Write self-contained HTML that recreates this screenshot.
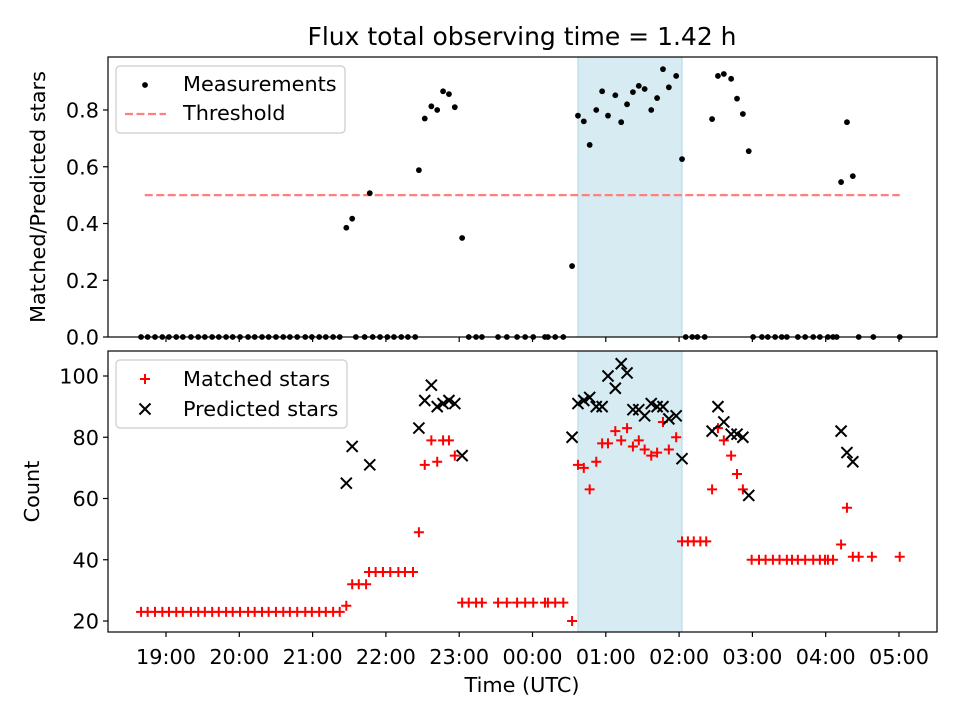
<!DOCTYPE html>
<html><head><meta charset="utf-8"><style>
body{margin:0;background:#fff}
svg text{font-family:"DejaVu Sans","Liberation Sans",sans-serif;fill:#000}
</style></head><body>
<svg id="chart" width="960" height="720" viewBox="0 0 960 720" xmlns="http://www.w3.org/2000/svg">
<rect width="960" height="720" fill="#fff"/>
<text x="522" y="45" font-size="25" text-anchor="middle">Flux total observing time = 1.42 h</text>
<g id="topPanel"></g><g id="botPanel"></g>
</svg>
<script>
// hours relative to 19:00 UTC
const ratioTimes=[-0.34,-0.25,-0.15,-0.05,0.04,0.14,0.23,0.34,0.44,0.53,0.63,0.72,0.82,0.91,1.01,1.12,1.21,1.31,1.40,1.50,1.60,1.69,1.79,1.90,1.99,2.09,2.18,2.28,2.37,
2.46,2.54,2.59,2.71,2.78,2.82,2.92,3.02,3.11,3.21,3.30,3.40,3.45,3.53,3.62,3.70,3.78,3.86,3.94,4.04,4.13,4.23,4.31,4.53,4.65,4.79,4.90,5.01,5.17,5.21,5.31,5.42,
5.54,5.62,5.70,5.78,5.87,5.95,6.03,6.13,6.21,6.29,6.37,6.45,6.53,6.62,6.70,6.78,6.86,6.96,7.04,7.09,7.18,7.25,7.35,7.45,7.53,7.61,7.71,7.79,7.87,7.95,
8.01,8.13,8.21,8.31,8.40,8.47,8.62,8.72,8.83,8.92,9.03,9.10,9.15,9.21,9.29,9.37,9.45,9.65,10.01];
const ratioValues=[0,0,0,0,0,0,0,0,0,0,0,0,0,0,0,0,0,0,0,0,0,0,0,0,0,0,0,0,0,
0.385,0.417,0,0,0.507,0,0,0,0,0,0,0,0.588,0.77,0.813,0.80,0.866,0.856,0.81,0.349,0,0,0,0,0,0,0,0,0,0,0,0,
0.25,0.78,0.76,0.677,0.80,0.866,0.78,0.852,0.757,0.82,0.863,0.885,0.874,0.80,0.842,0.944,0.88,0.92,0.627,0,0,0,0,0.768,0.92,0.927,0.91,0.84,0.786,0.655,
0,0,0,0,0,0,0,0,0,0,0,0,0,0.546,0.757,0.567,0,0,0];
const thresholdValue=0.5;
const thresholdRange=[-0.29,10.01];
const shadeRange=[5.62,7.04];
const matchedTimes=[-0.34,-0.25,-0.15,-0.05,0.04,0.14,0.23,0.34,0.44,0.53,0.63,0.72,0.82,0.91,1.01,1.12,1.21,1.31,1.40,1.50,1.60,1.69,1.79,1.90,1.99,2.09,2.18,2.28,2.37,
2.46,2.54,2.63,2.73,2.77,2.86,2.96,3.06,3.17,3.26,3.37,3.45,3.53,3.62,3.70,3.78,3.86,3.94,4.04,4.13,4.23,4.31,4.53,4.65,4.79,4.90,5.01,5.17,5.21,5.31,5.42,
5.54,5.62,5.70,5.78,5.87,5.95,6.03,6.13,6.21,6.29,6.37,6.45,6.53,6.62,6.70,6.78,6.86,6.96,7.04,7.12,7.20,7.29,7.37,7.45,7.53,7.61,7.71,7.79,7.87,
7.99,8.09,8.18,8.28,8.37,8.47,8.54,8.62,8.72,8.83,8.92,8.99,9.03,9.10,9.21,9.29,9.37,9.45,9.63,10.01];
const matchedValues=[23,23,23,23,23,23,23,23,23,23,23,23,23,23,23,23,23,23,23,23,23,23,23,23,23,23,23,23,23,
25,32,32,32,36,36,36,36,36,36,36,49,71,79,72,79,79,74,26,26,26,26,26,26,26,26,26,26,26,26,26,
20,71,70,63,72,78,78,82,79,83,77,79,76,74,75,85,76,80,46,46,46,46,46,63,83,79,74,68,63,
40,40,40,40,40,40,40,40,40,40,40,40,40,40,45,57,41,41,41,41];
const predTimes=[2.46,2.54,2.78,3.45,3.53,3.62,3.70,3.78,3.86,3.94,4.04,5.54,5.62,5.70,5.78,5.87,5.95,6.03,6.13,6.21,6.29,6.37,6.45,6.53,6.62,6.70,6.78,6.86,6.96,7.04,7.45,7.53,7.61,7.71,7.79,7.87,7.95,9.21,9.29,9.37];
const predValues=[65,77,71,83,92,97,90,91,92,91,74,80,91,92,93,90,90,100,96,104,101,89,89,87,91,90,90,86,87,73,82,90,85,81,81,80,61,82,75,72];
const xTickLabels=["19:00","20:00","21:00","22:00","23:00","00:00","01:00","02:00","03:00","04:00","05:00"];
const xTickHours=[0,1,2,3,4,5,6,7,8,9,10];
const topTicks=[0,0.2,0.4,0.6,0.8];
const botTicks=[20,40,60,80,100];

const NS="http://www.w3.org/2000/svg";
const L=108,R=937,FS=20.8;
const xScale=h=>166+h*73.3;
const yTop=v=>337-v*283.75;
const yBot=v=>376+(100-v)*3.0625;
function mk(parent,tag,attrs,text){const e=document.createElementNS(NS,tag);for(const k in attrs)e.setAttribute(k,attrs[k]);if(text!==undefined)e.textContent=text;parent.appendChild(e);return e;}
const topG=document.getElementById('topPanel'),botG=document.getElementById('botPanel');

function axesFrame(g,y0,y1,ticks,yf,name,ylabel,showX){
  const sh=mk(g,'rect',{x:xScale(shadeRange[0]),y:y0,width:xScale(shadeRange[1])-xScale(shadeRange[0]),height:y1-y0,fill:'#add8e6','fill-opacity':0.5,stroke:'#add8e6','stroke-width':1});
  
  
  ticks.forEach(t=>{const y=yf(t);
    const tk=mk(g,'line',{x1:L-5,x2:L,y1:y,y2:y,stroke:'#000','stroke-width':1.2});
    
    
    const tl=mk(g,'text',{x:L-9,y:y+7.5,'font-size':FS,'text-anchor':'end'},name==='top'?t.toFixed(1):String(t));
    
    
  });
  xTickHours.forEach((h,i)=>{const x=xScale(h);
    const tk=mk(g,'line',{x1:x,x2:x,y1:y1,y2:y1+5,stroke:'#000','stroke-width':1.2});
    
    
    if(showX){const tl=mk(g,'text',{x:x,y:y1+32,'font-size':FS,'text-anchor':'middle'},xTickLabels[i]);
      
      }
  });
  const yl=mk(g,'text',{x:0,y:0,'font-size':FS,'text-anchor':'middle',transform:`translate(${name==='top'?45:39},${(y0+y1)/2}) rotate(-90)`},ylabel);
  
  
}
function frame(g,y0,y1,name){const f=mk(g,'rect',{x:L,y:y0,width:R-L,height:y1-y0,fill:'none',stroke:'#000','stroke-width':1.2});
  
  }

// top panel
axesFrame(topG,57,337,topTicks,yTop,'top','Matched/Predicted stars',false);
const th=mk(topG,'line',{x1:xScale(thresholdRange[0]),x2:xScale(thresholdRange[1]),y1:yTop(thresholdValue),y2:yTop(thresholdValue),stroke:'#ff7f7f','stroke-width':2.2,'stroke-dasharray':'8,3.5'});


ratioTimes.forEach((t,i)=>{const c=mk(topG,'circle',{cx:xScale(t),cy:yTop(ratioValues[i]),r:2.9,fill:'#000'});
  
  });
frame(topG,57,337,'top');

// bottom panel
axesFrame(botG,351,632,botTicks,yBot,'bottom','Count',true);
function plus(g,x,y,s){return mk(g,'path',{d:`M${x-s},${y}H${x+s}M${x},${y-s}V${y+s}`,stroke:'#f00','stroke-width':2,fill:'none'});}
function cross(g,x,y,s){return mk(g,'path',{d:`M${x-s},${y-s}L${x+s},${y+s}M${x-s},${y+s}L${x+s},${y-s}`,stroke:'#000','stroke-width':2,fill:'none'});}
matchedTimes.forEach((t,i)=>{const p=plus(botG,xScale(t),yBot(matchedValues[i]),5);
  
  });
predTimes.forEach((t,i)=>{const p=cross(botG,xScale(t),yBot(predValues[i]),5.5);
  
  });
frame(botG,351,632,'bottom');
const xt=mk(botG,'text',{x:522,y:692,'font-size':FS,'text-anchor':'middle'},'Time (UTC)');



// legends
const lg1=mk(topG,'g',{});


mk(lg1,'rect',{x:116,y:66,width:229,height:67,rx:4,fill:'#fff','fill-opacity':0.8,stroke:'#ccc','stroke-width':1.2});
mk(lg1,'circle',{cx:145,cy:85,r:2.9,fill:'#000'});
const t1=mk(lg1,'text',{x:183,y:91,'font-size':FS},'Measurements');


mk(lg1,'line',{x1:125,x2:166,y1:114,y2:114,stroke:'#ff7f7f','stroke-width':2.2,'stroke-dasharray':'8,3.5'});
const t2=mk(lg1,'text',{x:183,y:120,'font-size':FS},'Threshold');



const lg2=mk(botG,'g',{});


mk(lg2,'rect',{x:116,y:360,width:231,height:68,rx:4,fill:'#fff','fill-opacity':0.8,stroke:'#ccc','stroke-width':1.2});
plus(lg2,145,379,5);
const t3=mk(lg2,'text',{x:183,y:386,'font-size':FS},'Matched stars');


cross(lg2,145,409,5.5);
const t4=mk(lg2,'text',{x:183,y:416,'font-size':FS},'Predicted stars');


</script>
</body></html>
